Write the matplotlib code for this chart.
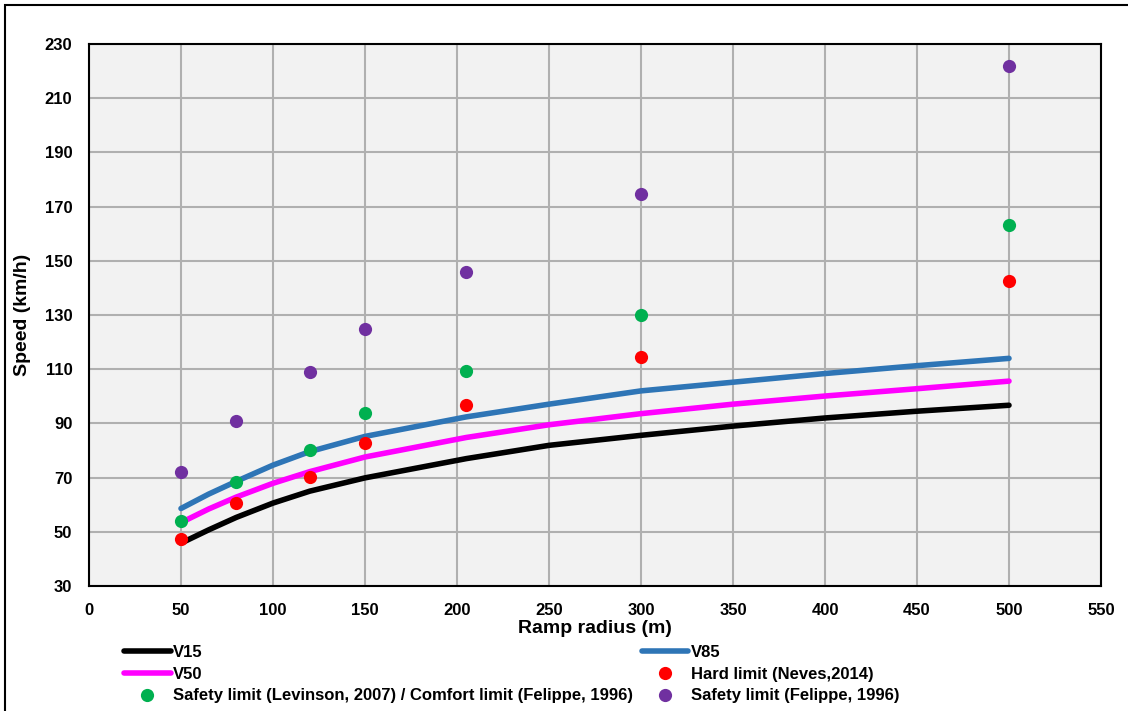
import matplotlib

matplotlib.use("Agg")
import matplotlib.pyplot as plt
from matplotlib.patches import Rectangle

plt.rcParams["font.family"] = ["Liberation Sans", "DejaVu Sans"]
plt.rcParams["font.weight"] = "bold"

# speed profiles
curve_radius = [50, 65, 80, 100, 120, 150, 205, 250, 300, 350, 400, 450, 500]
v15 = [45.8, 50.7, 55.3, 60.6, 65.0, 69.9, 77.0, 81.9, 85.6, 89.0, 92.0, 94.5, 96.7]
v50 = [53.4, 58.4, 62.8, 67.9, 72.2, 77.6, 84.8, 89.5, 93.6, 97.1, 100.1, 102.8, 105.6]
v85 = [58.6, 63.9, 68.6, 74.6, 79.6, 85.2, 92.4, 97.1, 102.0, 105.2, 108.4, 111.3, 114.0]

# limit points
limit_radius = [50, 80, 120, 150, 205, 300, 500]
hard_limit = [47.5, 60.7, 70.1, 82.9, 96.8, 114.5, 142.5]
levinson_limit = [54.0, 68.3, 80.0, 93.7, 109.3, 130.0, 163.2]
felippe_limit = [72.0, 91.0, 109.0, 124.8, 145.9, 174.6, 221.9]

x_ticks = list(range(0, 551, 50))
y_ticks = list(range(30, 231, 20))

fig = plt.figure(figsize=(11.28, 7.11), dpi=100)
ax = fig.add_axes([89 / 1128, 1 - 586 / 711, 1012 / 1128, 542 / 711])
ax.set_facecolor("#F2F2F2")

lw = 4.0
ms = 9.5
l15, = ax.plot(curve_radius, v15, color="black", lw=lw, solid_capstyle="round",
               solid_joinstyle="round", label="V15", zorder=3)
l50, = ax.plot(curve_radius, v50, color="#FF00FF", lw=lw, solid_capstyle="round",
               solid_joinstyle="round", label="V50", zorder=3)
l85, = ax.plot(curve_radius, v85, color="#2E75B6", lw=lw, solid_capstyle="round",
               solid_joinstyle="round", label="V85", zorder=3)
p_hard, = ax.plot(limit_radius, hard_limit, "o", color="#FF0000", ms=ms, mew=0,
                  label="Hard limit (Neves,2014)", zorder=4)
p_lev, = ax.plot(limit_radius, levinson_limit, "o", color="#00B050", ms=ms, mew=0,
                 label="Safety limit (Levinson, 2007) / Comfort limit (Felippe, 1996)", zorder=4)
p_fel, = ax.plot(limit_radius, felippe_limit, "o", color="#7030A0", ms=ms, mew=0,
                 label="Safety limit (Felippe, 1996)", zorder=4)

ax.set_xlim(0, 550)
ax.set_ylim(30, 230)
ax.set_xticks(x_ticks)
ax.set_yticks(y_ticks)
ax.grid(True, color="#B0B0B0", lw=1.5)
ax.set_axisbelow(True)
ax.tick_params(length=0, labelsize=12, pad=12)
for lab in ax.get_xticklabels() + ax.get_yticklabels():
    lab.set_fontweight("bold")
for side in ax.spines.values():
    side.set_color("black")
    side.set_linewidth(1.5)

ax.set_xlabel("Ramp radius (m)", fontsize=14, fontweight="bold", labelpad=2)
ax.set_ylabel("Speed (km/h)", fontsize=14, fontweight="bold", labelpad=10)

handles = [l15, l50, p_lev, l85, p_hard, p_fel]
fig.legend(handles, [h.get_label() for h in handles], ncol=2, loc="upper left",
           bbox_to_anchor=(124 / 1128, 1 - 645 / 711), frameon=False,
           prop={"size": 12, "weight": "bold"}, handlelength=2.8,
           handletextpad=0.15, columnspacing=0.5, labelspacing=0.4,
           borderaxespad=0, borderpad=0)

fig.patches.append(Rectangle((5 / 1128, -0.05), 1.2, 1 - 5 / 711 + 0.05,
                             transform=fig.transFigure, fill=False,
                             edgecolor="black", lw=1.5))

fig.savefig("out.png", dpi=100)
